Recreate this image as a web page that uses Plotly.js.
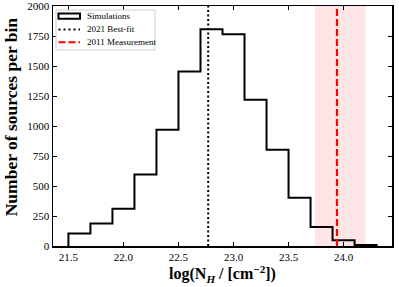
<!DOCTYPE html>
<html>
<head>
<meta charset="utf-8">
<script src="https://cdn.plot.ly/plotly-3.0.1.min.js"></script>
<style>html,body{margin:0;padding:0;background:#fff;}#chart{width:399px;height:287px;}</style>
</head>
<body>
<div id="chart"></div>
<script>
// Histogram bin edges (log NH) and counts per bin
const binEdges = [21.5, 21.7, 21.9, 22.1, 22.3, 22.5, 22.7, 22.9, 23.1, 23.3, 23.5, 23.7, 23.9, 24.1, 24.3];
const binCounts = [105, 188, 310, 596, 970, 1454, 1806, 1765, 1219, 803, 402, 158, 47, 8];
const bestFit2021 = 22.77;
const measurement2011 = 23.94;
const measurementLow = 23.74;
const measurementHigh = 24.20;
const xTickVals = [21.5, 22.0, 22.5, 23.0, 23.5, 24.0];
const yTickVals = [0, 250, 500, 750, 1000, 1250, 1500, 1750, 2000];
const legendLabels = ['Simulations', '2021 Best-fit', '2011 Measurement'];
const yTitle = 'Number of sources per bin';
const xTitle = 'log(N<sub><i>H</i></sub> / [cm<sup>−2</sup>])';
const yRange = [0, 2000.5];
const xRange = [21.36, 24.44];

const stepX = [binEdges[0]].concat(binEdges);
const stepY = [0].concat(binCounts, [0]);

const serif = '"Liberation Serif", "Times New Roman", serif';

const W = 399, H = 287;
const M = {l: 53, r: 7, t: 6, b: 40.5};
const px = x => (x - M.l) / (W - M.l - M.r);
const py = y => 1 - (y - M.t) / (H - M.t - M.b);

const traces = [
  {
    type: 'scatter', mode: 'lines', x: stepX, y: stepY,
    line: {shape: 'hv', color: 'black', width: 2}, showlegend: false, hoverinfo: 'skip'
  },
  {
    type: 'scatter', mode: 'lines', name: legendLabels[1],
    x: [bestFit2021, bestFit2021], y: yRange, showlegend: false,
    line: {color: 'black', width: 2, dash: '2px,2.5px'}
  },
  {
    type: 'scatter', mode: 'lines', name: legendLabels[2],
    x: [measurement2011, measurement2011], y: yRange, showlegend: false,
    line: {color: 'red', width: 2.2, dash: '7px,3px'}
  }
];

const axisCommon = {
  showline: true, linecolor: 'black', linewidth: 1.5, mirror: 'allticks',
  ticks: 'inside', ticklen: 4, tickwidth: 1, tickcolor: 'black',
  showgrid: false, zeroline: false, ticklabeloverflow: 'allow',
  tickfont: {family: serif, size: 11, color: 'black'}
};

// manual legend (box, symbols, labels)
const rowY = [16, 29.5, 42.3];
const legendShapes = [
  {type: 'rect', xref: 'paper', yref: 'paper', x0: px(56), x1: px(155), y0: py(10), y1: py(50),
   fillcolor: 'rgba(255,255,255,0.85)', line: {color: '#d0d0d0', width: 1}, layer: 'above'},
  {type: 'rect', xref: 'paper', yref: 'paper', x0: px(58.5), x1: px(80), y0: py(13.5), y1: py(18.8),
   fillcolor: 'rgba(0,0,0,0)', line: {color: 'black', width: 2}, layer: 'above'},
  {type: 'line', xref: 'paper', yref: 'paper', x0: px(58.5), x1: px(80), y0: py(rowY[1]), y1: py(rowY[1]),
   line: {color: 'black', width: 2, dash: '2px,3px'}, layer: 'above'},
  {type: 'line', xref: 'paper', yref: 'paper', x0: px(58.5), x1: px(80), y0: py(rowY[2]), y1: py(rowY[2]),
   line: {color: 'red', width: 2, dash: '7px,3px'}, layer: 'above'}
];
const annotations = legendLabels.map((t, i) => ({
  text: t, xref: 'paper', yref: 'paper', x: px(85), y: py(rowY[i]), xanchor: 'left', yanchor: 'middle',
  showarrow: false, font: {family: serif, size: 9, color: 'black'}
}));
annotations.push({
  text: '<b>' + yTitle + '</b>', textangle: -90, xref: 'paper', yref: 'paper',
  x: px(10.5), y: py(117), xanchor: 'center', yanchor: 'middle', showarrow: false,
  font: {family: serif, size: 17.5, color: 'black'}
});

const layout = {
  width: W, height: H,
  margin: M,
  paper_bgcolor: 'white', plot_bgcolor: 'white',
  font: {family: serif, color: 'black'},
  xaxis: Object.assign({}, axisCommon, {
    range: xRange, tickvals: xTickVals, tickformat: '.1f',
    title: {text: '<b>' + xTitle + '</b>', font: {family: serif, size: 16, color: 'black'}, standoff: 5}
  }),
  yaxis: Object.assign({}, axisCommon, {
    range: yRange, tickvals: yTickVals
  }),
  shapes: [{
    type: 'rect', xref: 'x', yref: 'paper', x0: measurementLow, x1: measurementHigh, y0: 0, y1: 1,
    fillcolor: 'rgba(255,0,0,0.1)', line: {width: 0}, layer: 'below'
  }].concat(legendShapes),
  annotations: annotations,
  showlegend: false
};

Plotly.newPlot('chart', traces, layout, {staticPlot: true, displayModeBar: false});
</script>
</body>
</html>
